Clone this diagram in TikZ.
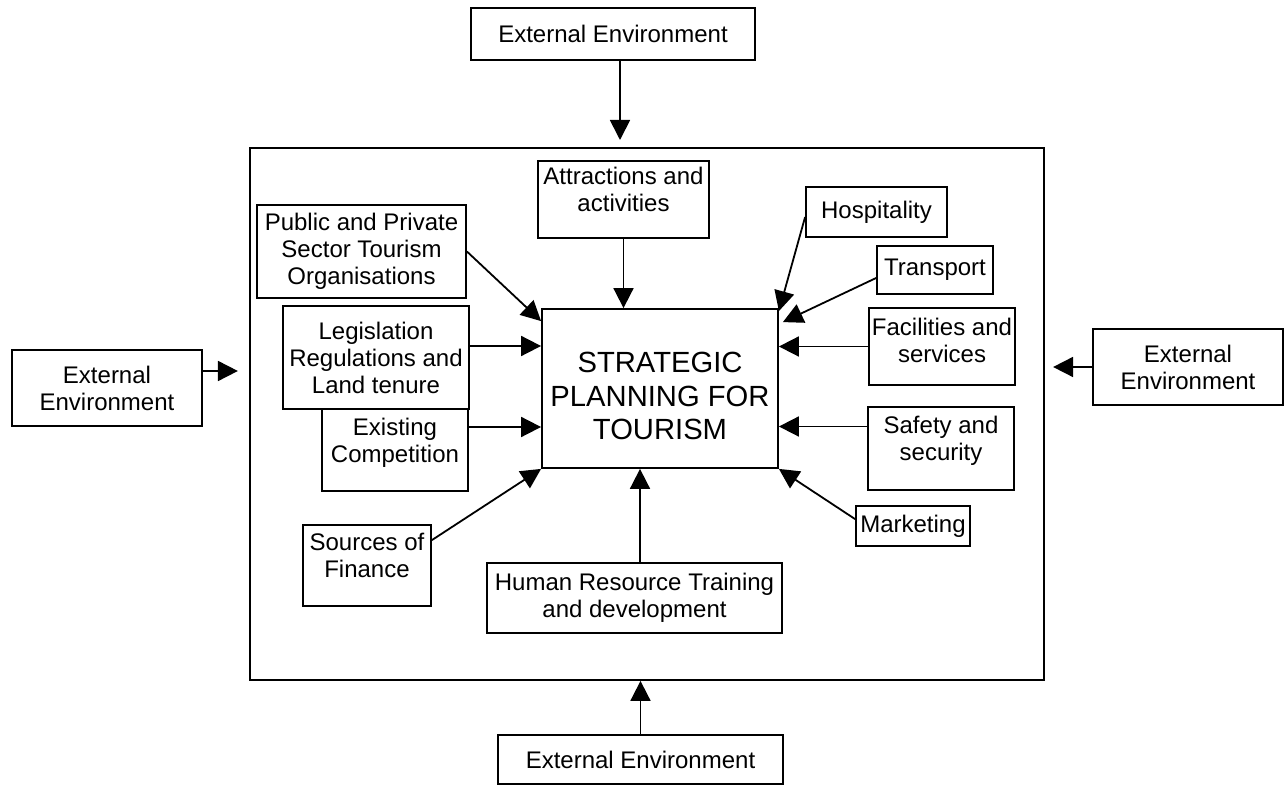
\documentclass[tikz,border=0pt]{standalone}
\usepackage{fontspec}
\setmainfont{Liberation Sans}
\usetikzlibrary{arrows.meta,calc}
\newcommand\lift[1]{\rule[-#1]{0pt}{0pt}}
\newcommand\drop[1]{\rule{0pt}{#1}}
\tikzset{
  bx/.style 2 args={draw, line width=0.9pt, inner sep=0pt, align=center,
    minimum width=#1*0.5pt, minimum height=#2*0.5pt,
    font=\fontsize{12}{13.5}\selectfont},
  arr/.style={line width=0.9pt, -{Triangle[length=10pt,width=10pt]}},
}
\begin{document}
\begin{tikzpicture}[x=0.5pt,y=-0.5pt]
\useasboundingbox (0,0) rectangle (1285,785);
% outer frame
\node[draw, line width=0.9pt, inner sep=0pt, minimum width=794*0.5pt, minimum height=532*0.5pt] (frame) at (647,414) {};
% external environments
\node[bx={284}{52}] (topE) at (613,34) {External Environment};
\node[bx={190}{76}] (leftE) at (107,388) {External\\Environment};
\node[bx={190}{76}] (rightE) at (1188,367) {External\\Environment};
\node[bx={285}{49}] (botE) at (640.5,759.5) {External Environment};
% centre
\node[bx={236}{159}, font=\fontsize{14.6}{16.7}\selectfont] (centre) at (660,388.5) {\drop{17.7pt}STRATEGIC\\PLANNING FOR\\TOURISM};
% factors
\node[bx={171}{77}] (attr) at (623.5,199.5) {Attractions and\\activities\lift{10pt}};
\node[bx={209}{93}] (pub) at (361.5,251.5) {Public and Private\\Sector Tourism\\Organisations};
\node[bx={186}{103}] (leg) at (376,357.5) {Legislation\\Regulations and\\Land tenure};
\node[bx={146}{82}] (exist) at (395,450) {Existing\\Competition\lift{10pt}};
\node[bx={128}{81}] (fin) at (367,565.5) {Sources of\\Finance\lift{10pt}};
\node[bx={295}{70}] (hr) at (634.5,598) {Human Resource Training\\and development};
\node[bx={141}{50}] (hosp) at (876.5,212) {Hospitality};
\node[bx={116}{48}] (trans) at (935,270) {Transport};
\node[bx={146}{77}] (fac) at (942,346.5) {Facilities and\\services\lift{6pt}};
\node[bx={146}{83}] (safe) at (941,448.5) {Safety and\\security\lift{10pt}};
\node[bx={114}{40}] (mkt) at (913,526) {Marketing};
% connectors
\draw[arr] ([xshift=3.5pt]topE.south) -- ([xshift=3.5pt]topE.south |- 0,140);
\draw[arr] ([yshift=8.5pt]leftE.east) -- ++(35,0);
\draw[arr] (rightE.west) -- ++(-39,0);
\draw[arr] (botE.north) -- (botE.north |- frame.south);
\draw[arr] (attr.south) -- (attr.south |- centre.north);
\draw[arr] (pub.east) -- ([yshift=-6.5pt]centre.north west);
\draw[arr] ([yshift=5.75pt]leg.east) -- ([yshift=5.75pt]leg.east -| centre.west);
\draw[arr] ([yshift=11.5pt]exist.east) -- ([yshift=11.5pt]exist.east -| centre.west);
\draw[arr] ([yshift=-8pt]fin.north east) -- (centre.south west);
\draw[arr] ([xshift=2.75pt]hr.north) -- ([xshift=2.75pt]hr.north |- centre.south);
\draw[arr] ([yshift=-7pt]mkt.north west) -- (centre.south east);
\draw[arr] ([yshift=11pt]safe.west) -- ([yshift=11pt]safe.west -| centre.east);
\draw[arr] (fac.west) -- (fac.west -| centre.east);
\draw[arr] ([yshift=-4pt]trans.west) -- ([shift={(2pt,-7pt)}]centre.north east);
\draw[arr] ([yshift=-2.5pt]hosp.west) -- ([yshift=-1.5pt]centre.north east);
\end{tikzpicture}
\end{document}
